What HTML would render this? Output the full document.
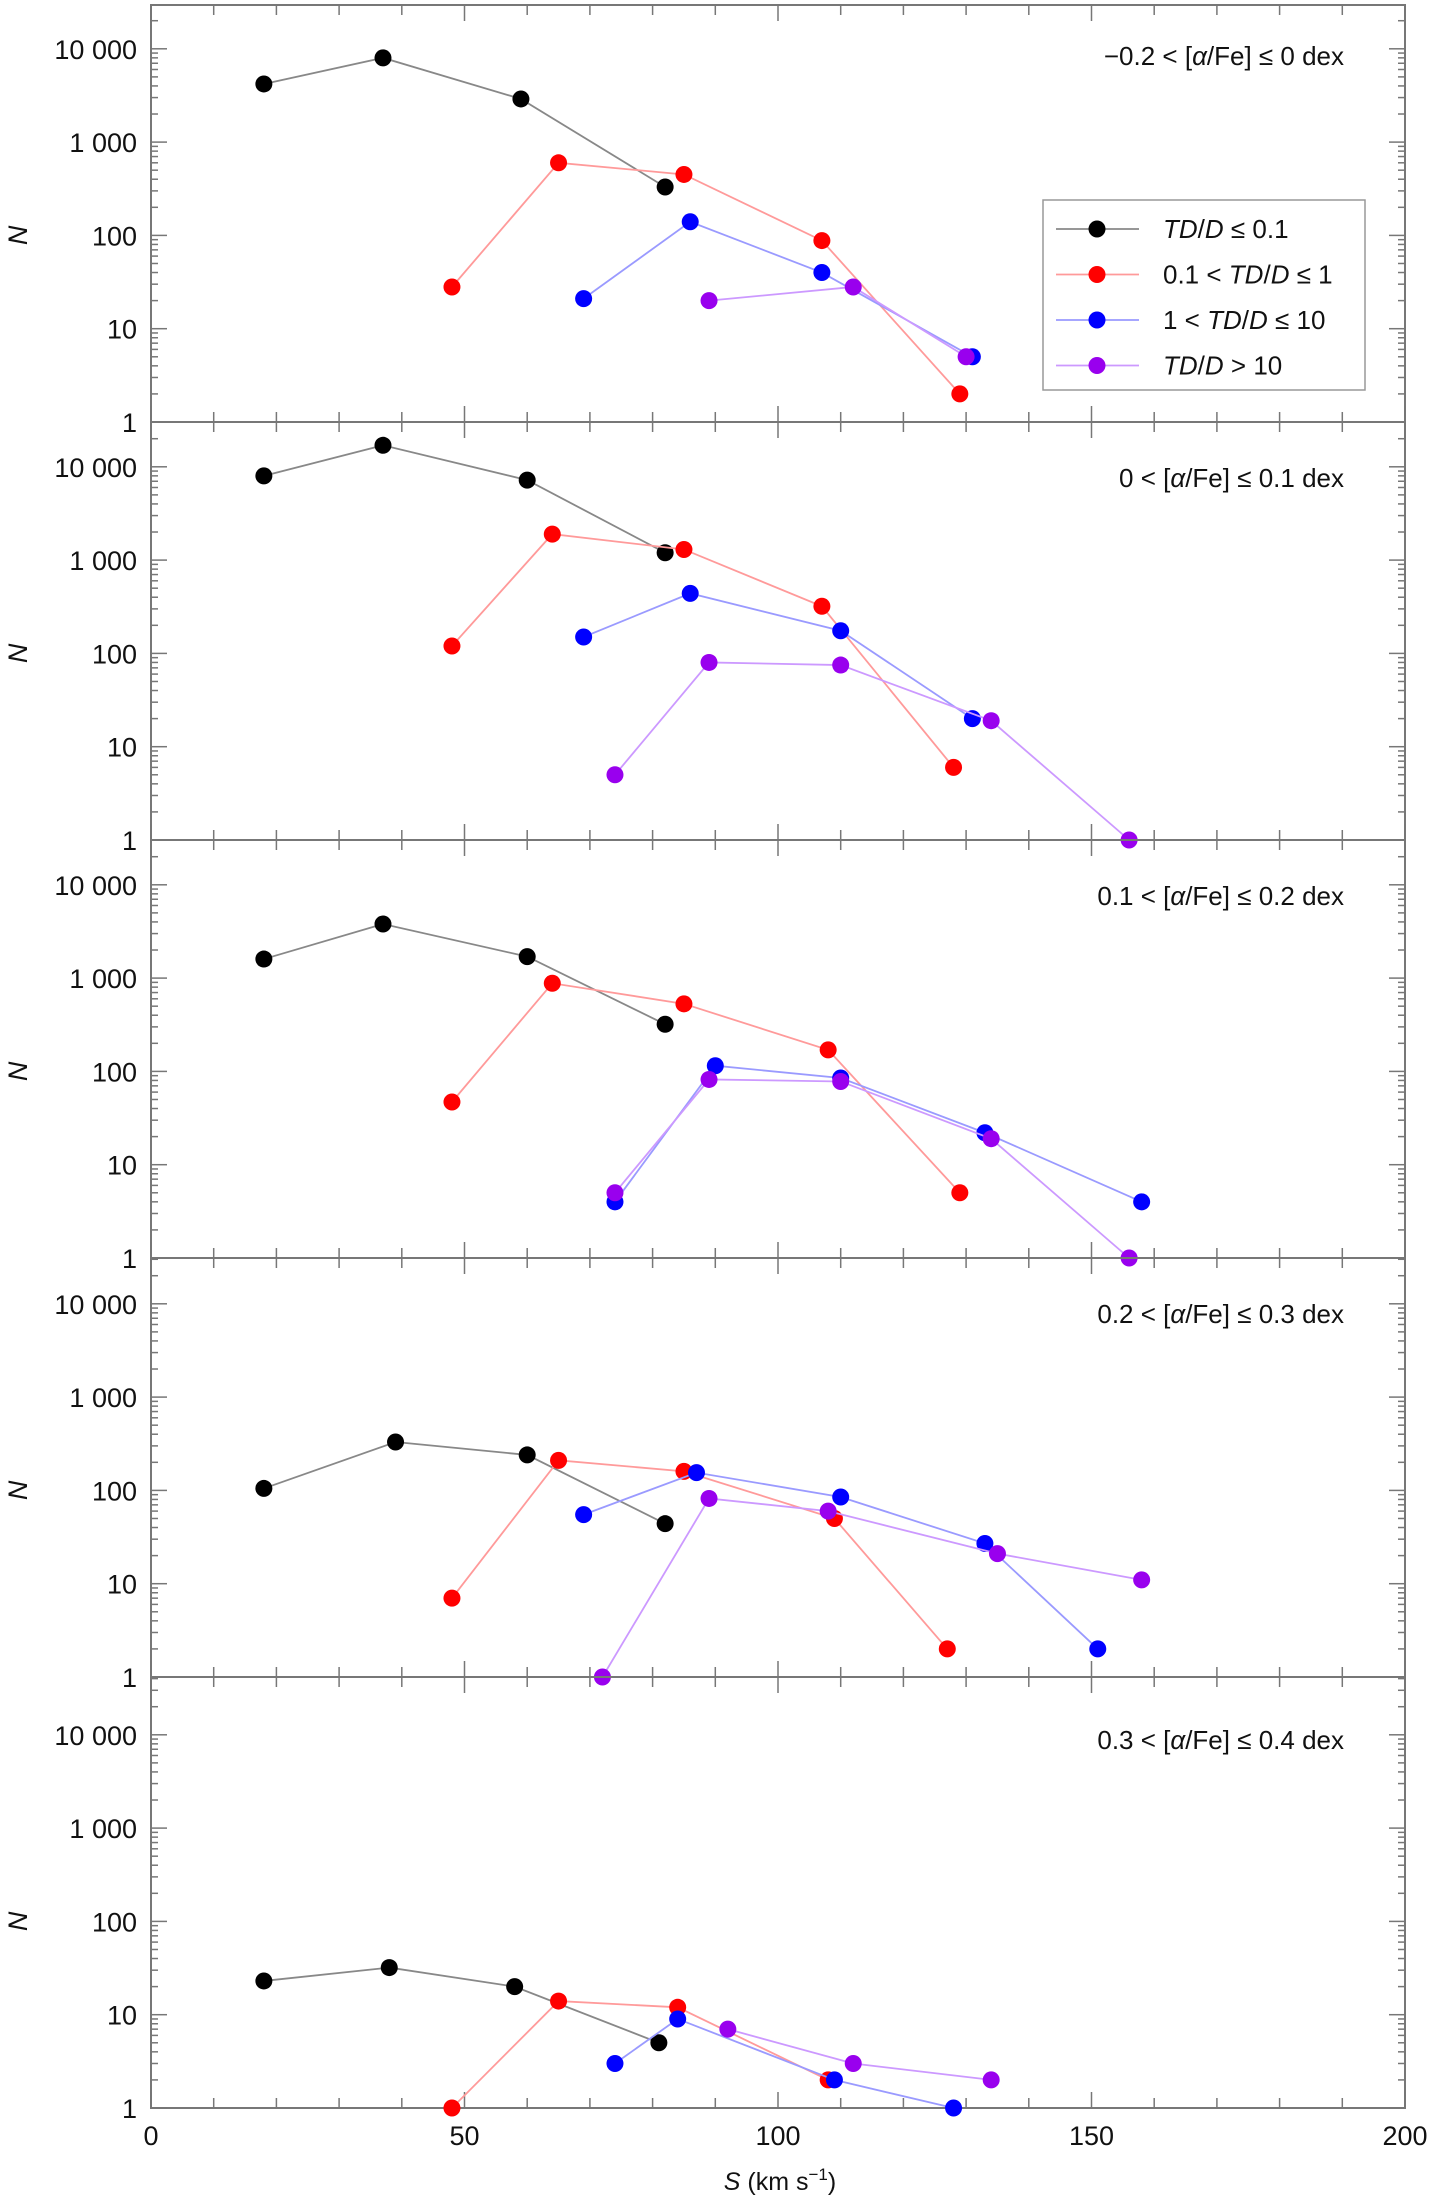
<!DOCTYPE html>
<html><head><meta charset="utf-8"><style>
body{margin:0;background:#fff}
svg{display:block;font-family:"Liberation Sans",sans-serif}
</style></head><body>
<svg id="c" width="1434" height="2202" viewBox="0 0 1434 2202"></svg>
<script>
const colors=['#000000','#ff0000','#0000ff','#9900ee'];
const lineColors=['#888888','#ff9a9a','#9a9aff','#cc99ff'];
const seriesNames=['td-le-0.1','td-0.1-1','td-1-10','td-gt-10'];
const panelLabels=['\u22120.2 < [<tspan font-style="italic">\u03b1</tspan>/Fe] \u2264 0 dex','0 < [<tspan font-style="italic">\u03b1</tspan>/Fe] \u2264 0.1 dex','0.1 < [<tspan font-style="italic">\u03b1</tspan>/Fe] \u2264 0.2 dex','0.2 < [<tspan font-style="italic">\u03b1</tspan>/Fe] \u2264 0.3 dex','0.3 < [<tspan font-style="italic">\u03b1</tspan>/Fe] \u2264 0.4 dex'];
const yTickLabels=['1','10','100','1 000','10 000'];
const xTickLabels=['0','50','100','150','200'];
const p1S=[[18,37,59,82],[48,65,85,107,129],[69,86,107,131],[89,112,130]];
const p1N=[[4200,8000,2900,330],[28,600,450,88,2],[21,140,40,5],[20,28,5]];
const p2S=[[18,37,60,82],[48,64,85,107,128],[69,86,110,131],[74,89,110,134,156]];
const p2N=[[8000,17000,7200,1200],[120,1900,1300,320,6],[150,440,175,20],[5,80,75,19,1]];
const p3S=[[18,37,60,82],[48,64,85,108,129],[74,90,110,133,158],[74,89,110,134,156]];
const p3N=[[1600,3800,1700,320],[47,880,530,170,5],[4,115,85,22,4],[5,82,78,19,1]];
const p4S=[[18,39,60,82],[48,65,85,109,127],[69,87,110,133,151],[72,89,108,135,158]];
const p4N=[[105,330,240,44],[7,210,160,50,2],[55,155,85,27,2],[1,82,60,21,11]];
const p5S=[[18,38,58,81],[48,65,84,108],[74,84,109,128],[92,112,134]];
const p5N=[[23,32,20,5],[1,14,12,2],[3,9,2,1],[7,3,2]];
const panelS=[p1S,p2S,p3S,p4S,p5S];
const panelN=[p1N,p2N,p3N,p4N,p5N];

const svg=document.getElementById('c');
const NS='http://www.w3.org/2000/svg';
const L=151,R=1405;
const bottoms=[422,840,1258,1677,2108];
const tops=[5,422,840,1258,1677];
const DEC=93.3;
const xs=v=>L+(v/200)*(R-L);
function mk(t,a,p){const e=document.createElementNS(NS,t);for(const k in a)e.setAttribute(k,a[k]);(p||svg).appendChild(e);return e;}

for(let p=0;p<5;p++){
  const g=mk('g',{});
  
  
  const B=bottoms[p],T=tops[p];
  const ys=v=>B-Math.log10(v)*DEC;
  const fr=mk('rect',{x:L,y:T,width:R-L,height:B-T,fill:'none',stroke:'#777','stroke-width':2},g);
  
  
  for(let v=0;v<=200;v+=10){
    const x=xs(v),len=v%50==0?16:10;
    mk('line',{x1:x,x2:x,y1:B,y2:B-len,stroke:'#777','stroke-width':1.5},g);
    mk('line',{x1:x,x2:x,y1:T,y2:T+len,stroke:'#777','stroke-width':1.5},g);
  }
  for(let d=0;d<5;d++){
    for(let m=1;m<=9;m++){
      const v=m*Math.pow(10,d);const y=ys(v);if(y<T+1)continue;
      const len=m==1?16:7;
      mk('line',{x1:L,x2:L+len,y1:y,y2:y,stroke:'#777','stroke-width':1.5},g);
      mk('line',{x1:R,x2:R-len,y1:y,y2:y,stroke:'#777','stroke-width':1.5},g);
    }
    const t=mk('text',{x:137,y:ys(Math.pow(10,d))+10,'text-anchor':'end','font-size':27,fill:'#111'},g);
    t.textContent=yTickLabels[d];
    
    
  }
  const yl=mk('text',{x:0,y:0,'font-size':27,'font-style':'italic','text-anchor':'middle',transform:`translate(27,${B-2*DEC}) rotate(-90)`,fill:'#111'},g);
  yl.textContent='N';
  
  
  const pl=mk('text',{x:1344,y:T+(p==0?60:p==4?72:65),'text-anchor':'end','font-size':26,fill:'#111'},g);
  pl.innerHTML=panelLabels[p];
  
  
  for(let s=0;s<4;s++){
    const S=panelS[p][s],N=panelN[p][s];
    const pts=S.map((v,i)=>xs(v)+','+ys(N[i])).join(' ');
    const pol=mk('polyline',{points:pts,fill:'none',stroke:lineColors[s],'stroke-width':1.8},g);
    
    
    S.forEach((v,i)=>{
      const c=mk('circle',{cx:xs(v),cy:ys(N[i]),r:8.5,fill:colors[s]},g);
      
      
    });
  }
}
for(let i=0;i<xTickLabels.length;i++){
  const t=mk('text',{x:xs(i*50),y:2145,'text-anchor':'middle','font-size':27,fill:'#111'});
  t.textContent=xTickLabels[i];
  
  
}
const xt=mk('text',{x:780,y:2190,'text-anchor':'middle','font-size':25,fill:'#111'});
xt.innerHTML='<tspan font-style="italic">S</tspan> (km s<tspan dy="-10" font-size="17">\u22121</tspan><tspan dy="10">)</tspan>';


const lg=mk('g',{});


mk('rect',{x:1043,y:200,width:322,height:190,fill:'#fff',stroke:'#999','stroke-width':1.5},lg);
const legTexts=['<tspan font-style="italic">TD</tspan>/<tspan font-style="italic">D</tspan> \u2264 0.1','0.1 < <tspan font-style="italic">TD</tspan>/<tspan font-style="italic">D</tspan> \u2264 1','1 < <tspan font-style="italic">TD</tspan>/<tspan font-style="italic">D</tspan> \u2264 10','<tspan font-style="italic">TD</tspan>/<tspan font-style="italic">D</tspan> > 10'];
for(let s=0;s<4;s++){
  const y=229+s*45.5;
  const e=mk('g',{},lg);
  
  
  mk('line',{x1:1056,x2:1139,y1:y,y2:y,stroke:lineColors[s],'stroke-width':1.8},e);
  mk('circle',{cx:1097,cy:y,r:8.5,fill:colors[s]},e);
  const t=mk('text',{x:1163,y:y+9,'font-size':26,fill:'#111'},e);
  t.innerHTML=legTexts[s];
}
</script>
</body></html>
